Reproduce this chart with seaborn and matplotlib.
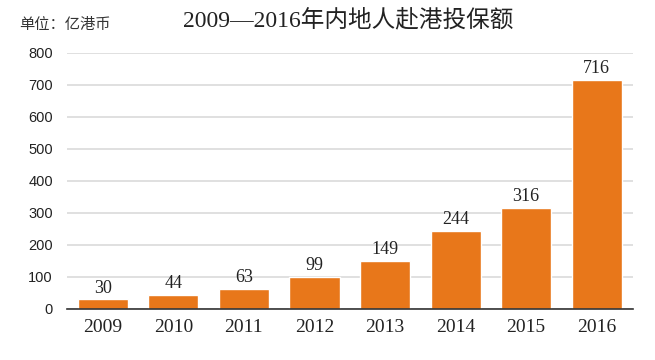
import numpy as np
import pandas as pd
import matplotlib
matplotlib.use('Agg')
import matplotlib.pyplot as plt
import seaborn as sns

# 数据
years = ['2009', '2010', '2011', '2012', '2013', '2014', '2015', '2016']
amounts = [30, 44, 63, 99, 149, 244, 316, 716]
yticks = [0, 100, 200, 300, 400, 500, 600, 700, 800]

serif = ['Liberation Serif', 'Noto Sans CJK SC']
sans = ['Liberation Sans', 'Noto Sans CJK SC']

sns.set_theme(style='white')
plt.rcParams['font.family'] = sans

df = pd.DataFrame({'year': years, 'amount': amounts})

fig = plt.figure(figsize=(6.55, 3.6), dpi=100)
ax = fig.add_axes([0.102, 0.142, 0.864, 0.711])

sns.barplot(data=df, x='year', y='amount', color='#E8771A', saturation=1,
            width=0.71, ax=ax, zorder=3)

# 柱顶数值
for cont in ax.containers:
    ax.bar_label(cont, labels=[str(v) for v in amounts], padding=2,
                 fontsize=13, family=serif, color='#222222')

ax.set_ylim(0, 800)
ax.set_xlim(-0.51, 7.51)
ax.set_yticks(yticks)
ax.yaxis.grid(True, color='#DADADA', linewidth=1.2, zorder=0)
ax.set_xlabel('')
ax.set_ylabel('')
for s in ['top', 'right', 'left']:
    ax.spines[s].set_visible(False)
ax.spines['bottom'].set_color('#333333')
ax.spines['bottom'].set_linewidth(1.2)
ax.spines['bottom'].set_zorder(4)

ax.tick_params(axis='y', length=0, pad=10, labelsize=10.5, labelcolor='#222222')
ax.tick_params(axis='x', length=0, pad=7, labelsize=14, labelcolor='#222222')
for t in ax.get_xticklabels():
    t.set_family(serif)

fig.text(0.532, 0.945, '2009—2016年内地人赴港投保额', ha='center', va='center',
         fontsize=17, family=serif, color='#222222')
fig.text(0.03, 0.93, '单位：亿港币', ha='left', va='center',
         fontsize=11, family=sans, color='#333333')

fig.savefig('out.png', dpi=100, facecolor='white')
